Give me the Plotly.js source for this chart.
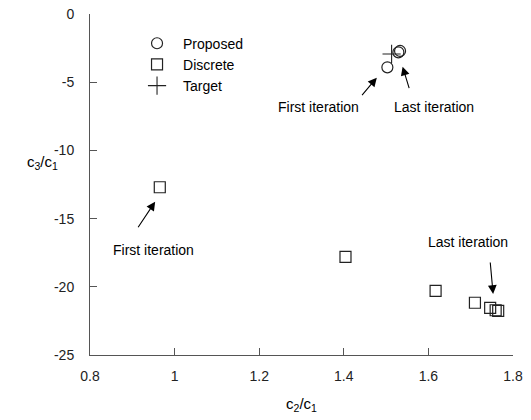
<!DOCTYPE html>
<html>
<head>
<meta charset="utf-8">
<script src="https://cdn.plot.ly/plotly-3.0.1.min.js"></script>
<style>html,body{margin:0;padding:0;background:#fff;}#chart{width:531px;height:420px;}</style>
</head>
<body>
<div id="chart"></div>
<script>
// Data
const proposedX = [1.503, 1.529, 1.533];
const proposedY = [-3.91, -2.81, -2.71];
const discreteX = [0.965, 1.404, 1.617, 1.710, 1.746, 1.759, 1.765];
const discreteY = [-12.70, -17.80, -20.30, -21.17, -21.55, -21.72, -21.76];
const targetX = [1.513];
const targetY = [-2.93];
const seriesNames = ["Proposed", "Discrete", "Target"];
const xTicks = [0.8, 1, 1.2, 1.4, 1.6, 1.8];
const yTicks = [0, -5, -10, -15, -20, -25];

const font = "Arial, 'Liberation Sans', sans-serif";
const markColor = "#222";

const traces = [
  {x: proposedX, y: proposedY, name: seriesNames[0], mode: "markers", type: "scatter",
   marker: {symbol: "circle-open", size: 11, color: markColor, line: {width: 1.2, color: markColor}}},
  {x: discreteX, y: discreteY, name: seriesNames[1], mode: "markers", type: "scatter",
   marker: {symbol: "square-open", size: 11, color: markColor, line: {width: 1.2, color: markColor}}},
  {x: targetX, y: targetY, name: seriesNames[2], mode: "markers", type: "scatter",
   marker: {symbol: "cross-thin-open", size: 13, color: markColor, line: {width: 1.1, color: markColor}}}
];

function arrow(x, y, ax, ay) {
  return {x: x, y: y, xref: "x", yref: "y", ax: ax, ay: ay, axref: "pixel", ayref: "pixel",
          text: "", showarrow: true, arrowhead: 2, arrowsize: 1.6, arrowwidth: 1.1, arrowcolor: "#000"};
}
function label(x, y, t) {
  return {x: x, y: y, xref: "x", yref: "y", text: t, showarrow: false,
          font: {family: font, size: 14, color: "#000"}};
}

const layout = {
  width: 531, height: 420,
  margin: {l: 90, r: 18, t: 14, b: 65},
  paper_bgcolor: "#fff", plot_bgcolor: "#fff",
  font: {family: font, size: 14, color: "#000"},
  showlegend: true,
  legend: {x: 0.097, y: 0.96, xanchor: "left", yanchor: "top", bgcolor: "rgba(0,0,0,0)",
           font: {family: font, size: 14, color: "#000"}, itemwidth: 42},
  xaxis: {range: [0.8, 1.8], tickvals: xTicks, ticktext: xTicks.map(String),
          showgrid: false, zeroline: false, showline: true, linecolor: "#555", linewidth: 1,
          ticks: "inside", ticklen: 7, tickcolor: "#555", ticklabelstandoff: 8,
          tickfont: {family: font, size: 14, color: "#222"},
          title: {text: "c<sub>2</sub>/c<sub>1</sub>", font: {family: font, size: 15, color: "#000"}, standoff: 15}},
  yaxis: {range: [-25, 0], tickvals: yTicks, ticktext: yTicks.map(String),
          showgrid: false, zeroline: false, showline: true, linecolor: "#555", linewidth: 1,
          ticks: "inside", ticklen: 7, tickcolor: "#555", ticklabelstandoff: 12,
          tickfont: {family: font, size: 14, color: "#222"}},
  annotations: [
    {x: -0.113, y: 0.565, xref: "paper", yref: "paper", xanchor: "center", yanchor: "middle",
     text: "c<sub>3</sub>/c<sub>1</sub>", showarrow: false,
     font: {family: font, size: 15, color: "#000"}},
    arrow(1.478, -4.67, -16, 19),
    label(1.339, -6.82, "First iteration"),
    arrow(1.539, -3.86, 7, 23),
    label(1.614, -6.82, "Last iteration"),
    arrow(0.954, -13.76, -18, 27),
    label(0.950, -17.30, "First iteration"),
    arrow(1.753, -20.53, -3, -33),
    label(1.693, -16.69, "Last iteration")
  ]
};

Plotly.newPlot("chart", traces, layout, {displayModeBar: false, staticPlot: true});
</script>
</body>
</html>
